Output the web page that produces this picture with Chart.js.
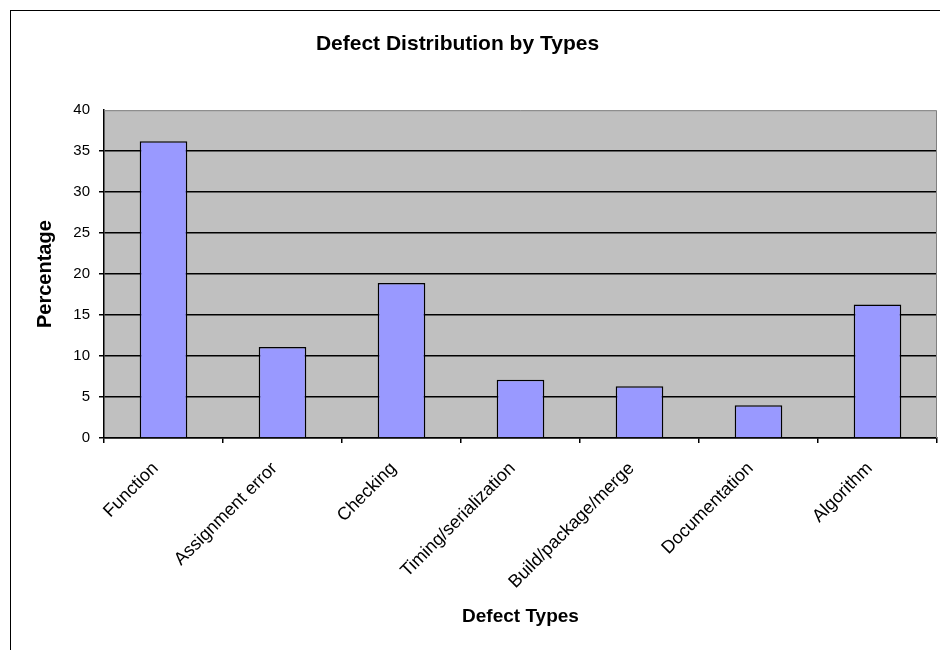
<!DOCTYPE html>
<html>
<head>
<meta charset="utf-8">
<title>Defect Distribution by Types</title>
<script src="https://cdn.jsdelivr.net/npm/chart.js@4/dist/chart.umd.min.js"></script>
<style>
  html, body { margin: 0; padding: 0; background: #ffffff; }
  #wrap { width: 940px; height: 650px; position: relative; }
</style>
</head>
<body>
<div id="wrap"><canvas id="chart" width="940" height="650"></canvas></div>
<script>
// Defect categories and their share of all defects (%)
const categories = [
  'Function',
  'Assignment error',
  'Checking',
  'Timing/serialization',
  'Build/package/merge',
  'Documentation',
  'Algorithm'
];
const percentages = [36.2, 11.1, 18.9, 7.1, 6.3, 4.0, 16.3];
const yTicks = [0, 5, 10, 15, 20, 25, 30, 35, 40];

const FONT = "'Liberation Sans', Arial, sans-serif";

// Grey plot area, the outer chart frame, and a slightly left-centred title
const plotBackground = {
  id: 'plotBackground',
  afterLayout(chart) {
    if (chart.titleBlock) chart.titleBlock.right -= 22;
  },
  beforeDraw(chart) {
    const { ctx, chartArea: a } = chart;
    ctx.save();
    ctx.strokeStyle = '#000000';
    ctx.lineWidth = 1;
    ctx.strokeRect(10.5, 10.5, chart.width + 20, chart.height + 20);
    ctx.fillStyle = '#c0c0c0';
    ctx.fillRect(a.left, a.top, a.right - a.left, a.bottom - a.top);
    ctx.restore();
  },
  afterDatasetsDraw(chart) {
    const { ctx, chartArea: a } = chart;
    ctx.save();
    ctx.strokeStyle = '#808080';
    ctx.lineWidth = 1;
    ctx.beginPath();
    ctx.moveTo(a.left, a.top + 0.5);
    ctx.lineTo(a.right - 0.5, a.top + 0.5);
    ctx.lineTo(a.right - 0.5, a.bottom);
    ctx.stroke();
    ctx.restore();
  }
};

new Chart(document.getElementById('chart'), {
  type: 'bar',
  data: {
    labels: categories,
    datasets: [{
      label: 'Percentage',
      data: percentages,
      backgroundColor: '#9999ff',
      borderColor: '#000000',
      borderWidth: 1.5,
      categoryPercentage: 1.0,
      barPercentage: 0.4
    }]
  },
  options: {
    responsive: false,
    animation: false,
    devicePixelRatio: 1,
    layout: { padding: { left: 0, right: 3, top: 0, bottom: 0 } },
    plugins: {
      legend: { display: false },
      tooltip: { enabled: false },
      title: {
        display: true,
        text: 'Defect Distribution by Types',
        color: '#000000',
        font: { family: FONT, size: 21, weight: 'bold' },
        padding: { top: 32, bottom: 53 }
      }
    },
    scales: {
      x: {
        afterFit(scale) { scale.height = 212; },
        border: { display: true, color: '#000000', width: 1.5 },
        grid: {
          offset: true,
          drawOnChartArea: false,
          drawTicks: true,
          tickLength: 5,
          lineWidth: 1.5,
          color: '#000000'
        },
        ticks: {
          color: '#000000',
          font: { family: FONT, size: 18 },
          minRotation: 45,
          maxRotation: 45,
          autoSkip: false,
          labelOffset: -8,
          padding: 15
        },
        title: {
          display: true,
          text: 'Defect Types',
          color: '#000000',
          font: { family: FONT, size: 19, weight: 'bold' },
          padding: { top: 0, bottom: 22 }
        }
      },
      y: {
        min: 0,
        max: 40,
        afterFit(scale) { scale.width = 104; },
        afterBuildTicks(scale) { scale.ticks = yTicks.map(v => ({ value: v })); },
        border: { display: true, color: '#000000', width: 1.5 },
        grid: {
          drawOnChartArea: true,
          drawTicks: true,
          tickLength: 5,
          lineWidth: 1.5,
          color: (ctx) => (ctx.tick && ctx.tick.value === 40) ? 'rgba(0,0,0,0)' : '#000000'
        },
        ticks: {
          color: '#000000',
          font: { family: FONT, size: 15 },
          padding: 9
        },
        title: {
          display: true,
          text: 'Percentage',
          color: '#000000',
          font: { family: FONT, size: 20, weight: 'bold' },
          padding: { top: 33, bottom: 0 }
        }
      }
    }
  },
  plugins: [plotBackground]
});
</script>
</body>
</html>
